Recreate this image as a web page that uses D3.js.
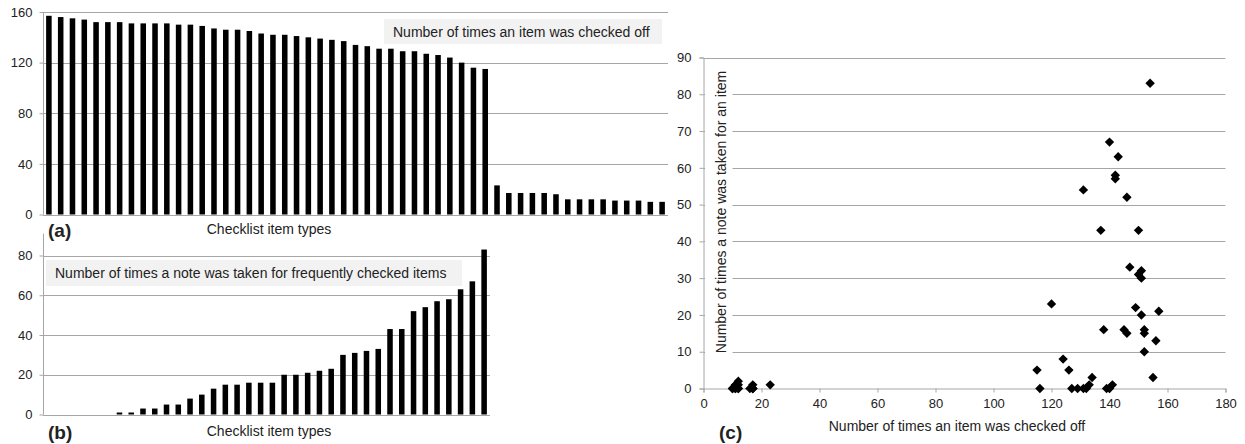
<!DOCTYPE html>
<html>
<head>
<meta charset="utf-8">
<script src="https://cdn.jsdelivr.net/npm/d3@7"></script>
<style>
  html, body { margin: 0; padding: 0; background: #fff; }
  svg { display: block; font-family: "Liberation Sans", Arial, sans-serif; }
</style>
</head>
<body>
<div id="chart"></div>
<script>
// (a) times each checklist item type was checked off, sorted descending
const checkedCounts = [157, 156, 155, 154, 152, 152, 152, 151, 151, 151, 151, 150, 150, 149, 147, 146, 146, 145, 143, 142, 142, 141, 140, 139, 138,
  137, 134, 133, 131, 131, 129, 129, 127, 126, 124, 120, 116, 115,
  23, 17, 17, 17, 17, 16, 12, 12, 12, 12, 11, 11, 11, 10, 10];

// (b) times a note was taken, frequently checked items only, sorted ascending
const noteCounts = [0, 0, 0, 0, 0, 0, 1, 1, 3, 3, 5, 5, 8, 10, 13, 15, 15, 16, 16, 16, 20, 20, 21, 22, 23,
  30, 31, 32, 33, 43, 43, 52, 54, 57, 58, 63, 67, 83];

// (c) scatter: checked off (x) vs notes taken (y), one pair per item
const scatterChecked = [154, 140, 143, 142, 142, 131, 146, 137, 150, 147, 151, 150, 151, 120, 149, 157, 151, 138, 145, 146,
  152, 152, 156, 152, 124, 115, 126, 134, 155, 116, 127, 129, 131, 132, 133, 139, 140, 141,
  23, 17, 17, 17, 17, 16, 12, 12, 12, 12, 11, 11, 11, 10, 10];
const scatterNotes = [83, 67, 63, 58, 57, 54, 52, 43, 43, 33, 32, 31, 30, 23, 22, 21, 20, 16, 16, 15,
  16, 15, 13, 10, 8, 5, 5, 3, 3, 0, 0, 0, 0, 0, 1, 0, 0, 1,
  1, 1, 0, 0, 0, 0, 2, 1, 0, 0, 0, 1, 0, 0, 0];

const ticksA = [0, 40, 80, 120, 160];
const ticksB = [0, 20, 40, 60, 80];
const ticksCx = [0, 20, 40, 60, 80, 100, 120, 140, 160, 180];
const ticksCy = [0, 10, 20, 30, 40, 50, 60, 70, 80, 90];

const width = 1245, height = 444;
const GRID = '#a6a6a6';
const TEXT = '#222';
const FS = 13;   // tick labels
const TS = 14;   // titles and legend text

const svg = d3.select('#chart').append('svg')
  .attr('width', width)
  .attr('height', height)
  .attr('viewBox', [0, 0, width, height]);

// Shared bar panel drawing for (a) and (b)
function barPanel(values, x0, x1, yScale, ticks, axisTop) {
  const x = d3.scaleBand()
    .domain(d3.range(values.length))
    .range([x0, x1])
    .paddingInner(0.53)
    .paddingOuter(0.265);

  const g = svg.append('g');

  g.append('g')
    .selectAll('line')
    .data(ticks.filter(t => t > 0))
    .join('line')
    .attr('x1', x0).attr('x2', x1)
    .attr('y1', d => Math.round(yScale(d)) + 0.5)
    .attr('y2', d => Math.round(yScale(d)) + 0.5)
    .attr('stroke', GRID);

  // y axis line plus outside ticks
  const yAxis = g.append('g')
    .attr('transform', `translate(${x0 + 0.5},0)`)
    .call(d3.axisLeft(yScale).tickValues(ticks).tickSize(4).tickPadding(7));
  yAxis.select('.domain').remove();
  yAxis.selectAll('.tick line').attr('stroke', GRID);
  yAxis.selectAll('.tick text')
    .attr('font-size', FS).attr('fill', TEXT)
    .attr('font-family', '"Liberation Sans", Arial, sans-serif');
  g.append('line')
    .attr('x1', x0 + 0.5).attr('x2', x0 + 0.5)
    .attr('y1', yScale(axisTop)).attr('y2', yScale(0))
    .attr('stroke', GRID);
  g.append('line')
    .attr('x1', x0).attr('x2', x1)
    .attr('y1', Math.round(yScale(0)) + 0.5).attr('y2', Math.round(yScale(0)) + 0.5)
    .attr('stroke', GRID);

  g.append('g')
    .selectAll('rect')
    .data(values)
    .join('rect')
    .attr('x', (d, i) => x(i))
    .attr('width', x.bandwidth())
    .attr('y', d => yScale(d))
    .attr('height', d => yScale(0) - yScale(d))
    .attr('fill', '#000');

  return g;
}

function legendBox(text, x, y, w, h) {
  svg.append('rect')
    .attr('x', x).attr('y', y)
    .attr('width', w).attr('height', h)
    .attr('fill', '#f2f2f2');
  svg.append('text')
    .attr('x', x + 9).attr('y', y + h / 2)
    .attr('dy', '0.36em')
    .attr('font-size', TS).attr('fill', TEXT)
    .text(text);
}

function label(text, x, y, opts = {}) {
  return svg.append('text')
    .attr('x', x).attr('y', y)
    .attr('font-size', opts.size ?? TS)
    .attr('font-weight', opts.bold ? 'bold' : 'normal')
    .attr('text-anchor', opts.anchor ?? 'start')
    .attr('fill', TEXT)
    .text(text);
}

// ---- (a)
const yA = d3.scaleLinear().domain([0, 160]).range([214.5, 12]);
barPanel(checkedCounts, 43, 668, yA, ticksA, 160);
legendBox('Number of times an item was checked off', 384, 19, 278, 25);
label('(a)', 48, 237, { size: 19, bold: true });
label('Checklist item types', 269, 233.5, { anchor: 'middle' });

// ---- (b)
const yB = d3.scaleLinear().domain([0, 80]).range([414.5, 255.5]);
barPanel(noteCounts, 43, 490, yB, ticksB, 91);
legendBox('Number of times a note was taken for frequently checked items', 46, 260, 416, 26);
label('(b)', 48, 439, { size: 19, bold: true });
label('Checklist item types', 269, 436, { anchor: 'middle' });

// ---- (c)
const xC = d3.scaleLinear().domain([0, 180]).range([703.5, 1225.5]);
const yC = d3.scaleLinear().domain([0, 90]).range([388.5, 57.5]);
const gc = svg.append('g');

gc.append('g')
  .selectAll('line')
  .data(ticksCy.filter(t => t > 0))
  .join('line')
  .attr('x1', xC(0)).attr('x2', xC(180))
  .attr('y1', d => Math.round(yC(d)) + 0.5)
  .attr('y2', d => Math.round(yC(d)) + 0.5)
  .attr('stroke', GRID);

const axCy = gc.append('g')
  .attr('transform', `translate(${xC(0)},0)`)
  .call(d3.axisLeft(yC).tickValues(ticksCy).tickSize(4).tickPadding(8));
axCy.select('.domain').attr('stroke', GRID);
axCy.selectAll('.tick line').attr('stroke', GRID);
axCy.selectAll('.tick text')
  .attr('font-size', FS).attr('fill', TEXT)
  .attr('font-family', '"Liberation Sans", Arial, sans-serif');

const axCx = gc.append('g')
  .attr('transform', `translate(0,${yC(0)})`)
  .call(d3.axisBottom(xC).tickValues(ticksCx).tickSize(4).tickPadding(6));
axCx.select('.domain').attr('stroke', GRID);
axCx.selectAll('.tick line').attr('stroke', GRID);
axCx.selectAll('.tick text')
  .attr('font-size', FS).attr('fill', TEXT)
  .attr('font-family', '"Liberation Sans", Arial, sans-serif');

// rotated y title sits inside the plot with a white backing over the grid
gc.append('rect')
  .attr('x', 705).attr('y', 63)
  .attr('width', 27.5).attr('height', 298)
  .attr('fill', '#fff');
gc.append('text')
  .attr('transform', 'translate(726,212) rotate(-90)')
  .attr('text-anchor', 'middle')
  .attr('font-size', TS).attr('fill', TEXT)
  .text('Number of times a note was taken for an item');

const diamond = d3.symbol().type(d3.symbolSquare).size(44);
gc.append('g')
  .selectAll('path')
  .data(scatterChecked.map((c, i) => [c, scatterNotes[i]]))
  .join('path')
  .attr('d', diamond)
  .attr('transform', d => `translate(${xC(d[0])},${yC(d[1])}) rotate(45)`)
  .attr('fill', '#000');

label('Number of times an item was checked off', 957, 431, { anchor: 'middle' });
label('(c)', 719, 439, { size: 19, bold: true });
</script>
</body>
</html>
